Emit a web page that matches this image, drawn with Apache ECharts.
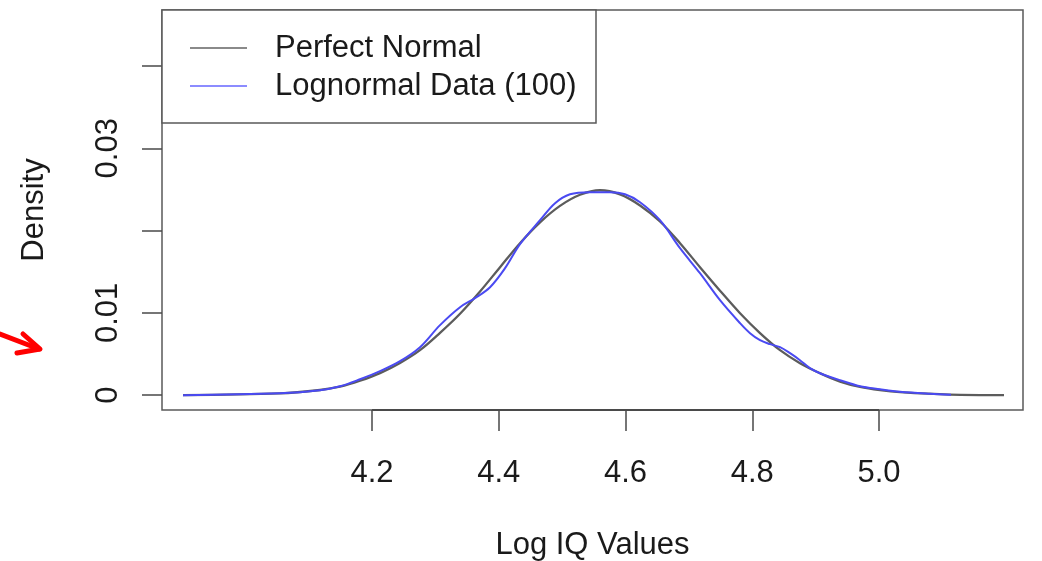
<!DOCTYPE html>
<html>
<head>
<meta charset="utf-8">
<title>Log IQ Values density</title>
<script src="https://cdn.jsdelivr.net/npm/echarts@6/dist/echarts.min.js"></script>
<style>
  html, body { margin: 0; padding: 0; background: #fff; }
  #chart { width: 1042px; height: 561px; }
</style>
</head>
<body>
<div id="chart"></div>
<script>
// Density curves on the log scale
const normalX = [3.9018, 4.0548, 4.1179, 4.1495, 4.1811, 4.2126, 4.2442, 4.2757, 4.3073, 4.3389,
  4.3704, 4.4020, 4.4335, 4.4651, 4.4966, 4.5282, 4.5598, 4.5913, 4.6229, 4.6544,
  4.6860, 4.7175, 4.7491, 4.7807, 4.8122, 4.8438, 4.8753, 4.9069, 4.9385, 4.9700,
  5.0016, 5.0331, 5.1120, 5.1972];
const normalDensity = [0.00001, 0.00022, 0.00063, 0.00103, 0.00175, 0.00268, 0.00392, 0.00548, 0.00758, 0.00990,
  0.01260, 0.01555, 0.01847, 0.02100, 0.02300, 0.02435, 0.02490, 0.02440, 0.02305, 0.02110,
  0.01847, 0.01555, 0.01270, 0.00996, 0.00755, 0.00547, 0.00389, 0.00267, 0.00165, 0.00100,
  0.00061, 0.00036, 0.00006, 0];

const lognormX = [3.9018, 4.0548, 4.1179, 4.1495, 4.1811, 4.2126, 4.2442, 4.2757, 4.3073, 4.3389,
  4.3625, 4.3862, 4.4099, 4.4335, 4.4651, 4.4888, 4.5124, 4.5440, 4.5755, 4.5992,
  4.6229, 4.6544, 4.6860, 4.7175, 4.7491, 4.7807, 4.7965, 4.8122, 4.8280, 4.8438,
  4.8596, 4.8753, 4.8910, 4.9069, 4.9385, 4.9700, 5.0016, 5.0331, 5.0805, 5.1136];
const lognormDensity = [0, 0.00024, 0.00061, 0.00109, 0.00194, 0.00292, 0.00413, 0.00583, 0.00851, 0.01069,
  0.01179, 0.01312, 0.01543, 0.01835, 0.02126, 0.02333, 0.02442, 0.02467, 0.02467, 0.02442,
  0.02345, 0.02126, 0.01786, 0.01482, 0.01154, 0.00875, 0.00753, 0.00668, 0.00620, 0.00583,
  0.00510, 0.00425, 0.00328, 0.00267, 0.00182, 0.00109, 0.00073, 0.00043, 0.00018, 0.00006];

const seriesNames = ['Perfect Normal', 'Lognormal Data (100)'];
const xTicks = [4.2, 4.4, 4.6, 4.8, 5.0];
const yTicks = [0, 0.01, 0.02, 0.03, 0.04];
const yLabelValues = [0, 0.01, 0.03];

const xMin = 3.8686, xMax = 5.2272;
const yMin = -0.0018, yMax = 0.0468;

const zip = (xs, ys) => xs.map((x, i) => [x, ys[i]]);
const FONT = "'Liberation Sans', Arial, Helvetica, sans-serif";
const TEXT = '#1a1a1a';

const chart = echarts.init(document.getElementById('chart'), null, { renderer: 'canvas' });

chart.setOption({
  animation: false,
  backgroundColor: '#ffffff',
  textStyle: { fontFamily: FONT },
  grid: {
    left: 162, right: 19, top: 10, bottom: 151,
    outerBoundsMode: 'none', containLabel: false,
    show: true, borderColor: '#5a5a5a', borderWidth: 1.5, backgroundColor: 'transparent'
  },
  xAxis: {
    type: 'value', min: xMin, max: xMax,
    name: 'Log IQ Values', nameLocation: 'middle', nameGap: 120,
    nameTextStyle: { fontSize: 31, color: TEXT, fontFamily: FONT },
    axisLine: { show: false, onZero: false },
    splitLine: { show: false },
    axisTick: { show: true, customValues: xTicks, length: 21, lineStyle: { color: '#4a4a4a', width: 1.5 } },
    axisLabel: {
      customValues: xTicks, margin: 48, fontSize: 31, color: TEXT, fontFamily: FONT,
      formatter: v => v.toFixed(1)
    }
  },
  yAxis: {
    type: 'value', min: yMin, max: yMax,
    name: 'Density', nameLocation: 'middle', nameGap: 112, nameRotate: 90,
    nameTextStyle: { fontSize: 31, color: TEXT, fontFamily: FONT },
    axisLine: { show: false, onZero: false },
    splitLine: { show: false },
    axisTick: { show: true, customValues: yTicks, length: 20, lineStyle: { color: '#4a4a4a', width: 1.5 } },
    axisLabel: {
      customValues: yLabelValues, rotate: 90, margin: 38, fontSize: 31, color: TEXT, fontFamily: FONT,
      formatter: v => (v === 0 ? '0' : String(Number(v.toFixed(2))))
    }
  },
  legend: {
    orient: 'vertical', left: 190, top: 29, padding: 0, itemGap: 0,
    itemWidth: 57, itemHeight: 2, icon: 'rect',
    selectedMode: false,
    textStyle: { fontSize: 31, color: TEXT, fontFamily: FONT, lineHeight: 38, padding: [0, 0, 0, 23] },
    data: [
      { name: seriesNames[0], itemStyle: { color: '#8a8a8a' } },
      { name: seriesNames[1], itemStyle: { color: '#8c8cff' } }
    ]
  },
  series: [
    {
      // x axis line spanning the first to last tick
      name: 'xAxisLine', type: 'line', silent: true, symbol: 'none',
      data: [[xTicks[0], yMin], [xTicks[xTicks.length - 1], yMin]],
      lineStyle: { color: '#4a4a4a', width: 2 }, clip: false, z: 3
    },
    {
      name: seriesNames[0], type: 'line', symbol: 'none', smooth: 0.35,
      data: zip(normalX, normalDensity),
      lineStyle: { color: '#5c5c5c', width: 2.3 }, z: 4
    },
    {
      name: seriesNames[1], type: 'line', symbol: 'none', smooth: 0.35,
      data: zip(lognormX, lognormDensity),
      lineStyle: { color: '#4a4af2', width: 2 }, z: 5
    }
  ],
  graphic: [
    {
      // legend frame
      type: 'rect', shape: { x: 162, y: 10, width: 434, height: 113 },
      style: { fill: '#ffffff', stroke: '#5a5a5a', lineWidth: 1.5 }, z: 1
    },
    {
      // red pointer arrow at the left margin
      type: 'polyline', shape: { points: [[0, 334], [39, 349]] },
      style: { stroke: '#ff0000', lineWidth: 5, lineCap: 'round', fill: null }, z: 10
    },
    {
      type: 'polyline', shape: { points: [[23, 334], [40, 349], [17, 353]] },
      style: { stroke: '#ff0000', lineWidth: 5, lineCap: 'round', lineJoin: 'round', fill: null }, z: 10
    }
  ]
});
</script>
</body>
</html>
